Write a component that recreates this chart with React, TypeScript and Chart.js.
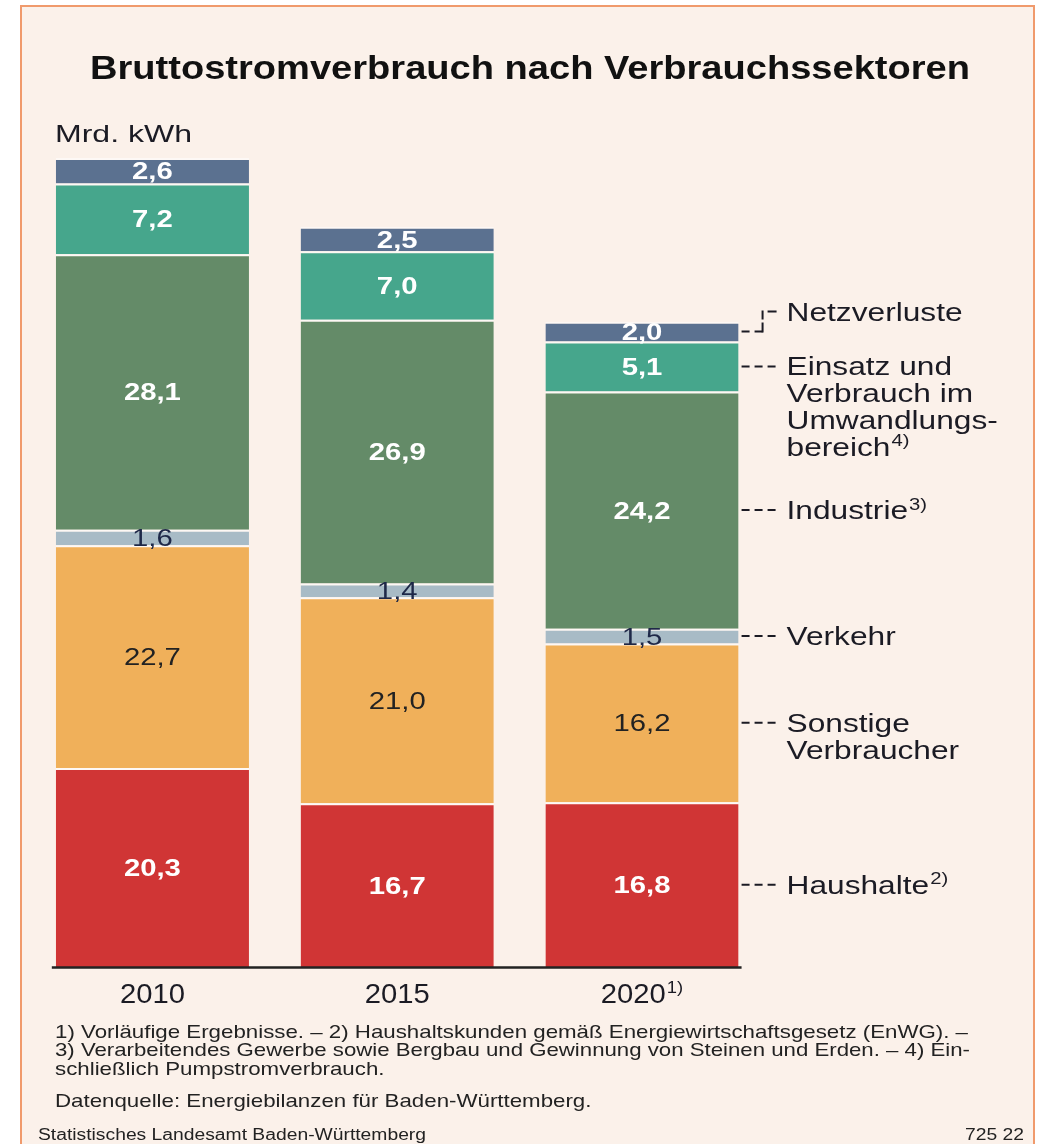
import React, { useEffect, useRef } from "react";
import { Chart, registerables } from "chart.js";

Chart.register(...registerables);

// ---------- data ----------
const years = ["2010", "2015", "2020"];
const yearSup = ["", "", "1)"];
const haushalte = [20.3, 16.7, 16.8];
const sonstige = [22.7, 21.0, 16.2];
const verkehr = [1.6, 1.4, 1.5];
const industrie = [28.1, 26.9, 24.2];
const umwandlung = [7.2, 7.0, 5.1];
const netzverluste = [2.6, 2.5, 2.0];
const seriesLabels = [
  "Haushalte",
  "Sonstige Verbraucher",
  "Verkehr",
  "Industrie",
  "Einsatz und Verbrauch im Umwandlungsbereich",
  "Netzverluste",
];
const legendLines: [string, string][][] = [
  [["Haushalte", "2)"]],
  [["Sonstige", ""], ["Verbraucher", ""]],
  [["Verkehr", ""]],
  [["Industrie", "3)"]],
  [["Einsatz und", ""], ["Verbrauch im", ""], ["Umwandlungs-", ""], ["bereich", "4)"]],
  [["Netzverluste", ""]],
];
const titleText = "Bruttostromverbrauch nach Verbrauchssektoren";
const unitText = "Mrd. kWh";
const footnoteLines = [
  "1) Vorläufige Ergebnisse. – 2) Haushaltskunden gemäß Energiewirtschaftsgesetz (EnWG). –",
  "3) Verarbeitendes Gewerbe sowie Bergbau und Gewinnung von Steinen und Erden. – 4) Ein-",
  "schließlich Pumpstromverbrauch.",
];
const sourceText = "Datenquelle: Energiebilanzen für Baden-Württemberg.";
const publisherText = "Statistisches Landesamt Baden-Württemberg";
const codeText = "725 22";

// ---------- styles ----------
const seriesData = [haushalte, sonstige, verkehr, industrie, umwandlung, netzverluste];
const colors = ["#d03535", "#f0b05a", "#a8bbc6", "#648b68", "#46a68c", "#5b7190"];
const valueColors = ["#ffffff", "#222222", "#1e2848", "#ffffff", "#ffffff", "#ffffff"];
const valueBold = [true, false, false, true, true, true];
const legendOffsets = [0, 0, 0, 0, 0, -20];
const gapColor = "#fdf8f5";
const bgColor = "#fbf1ea";
const frameColor = "#f09a6c";
const textColor = "#1b1b24";
const FAM = '"Liberation Sans", Arial, Helvetica, sans-serif';
const NARROW = '"Liberation Sans Narrow", "Liberation Sans", Arial, sans-serif';
const f = (bold: boolean, size: number, fam = FAM) => `${bold ? "bold " : ""}${size}px ${fam}`;

const mctx = document.createElement("canvas").getContext("2d") as CanvasRenderingContext2D;
function tw(text: string, font: string) {
  mctx.font = font;
  return mctx.measureText(text).width;
}
const fmt = (v: number) => v.toFixed(1).replace(".", ",");

function drawStretched(ctx: CanvasRenderingContext2D, text: string, left: number, y: number, sx: number) {
  ctx.save();
  ctx.translate(left, y);
  ctx.scale(sx, 1);
  ctx.textAlign = "left";
  ctx.textBaseline = "alphabetic";
  ctx.fillText(text, 0, 0);
  ctx.restore();
}

function drawSup(
  ctx: CanvasRenderingContext2D,
  main: string,
  sup: string,
  x: number,
  cy: number,
  size: number,
  supSize: number,
  sx: number,
  align: "left" | "center",
  bold: boolean
) {
  ctx.font = f(bold, size);
  const w1 = ctx.measureText(main).width * sx;
  ctx.font = f(bold, supSize);
  const w2 = sup ? ctx.measureText(sup).width * sx + 1 : 0;
  const total = w1 + w2;
  const left = align === "center" ? x - total / 2 : x;
  const baseline = cy + 0.358 * size;
  ctx.font = f(bold, size);
  drawStretched(ctx, main, left, baseline, sx);
  if (sup) {
    ctx.font = f(bold, supSize);
    const sb = baseline - 0.716 * size - 3 + 0.716 * supSize;
    drawStretched(ctx, sup, left + w1 + 1, sb, sx);
  }
}

const labelPlugin = {
  id: "customLabels",
  afterDatasetsDraw(chart: any) {
    const ctx: CanvasRenderingContext2D = chart.ctx;
    const valSize = 24;
    const valSx = 57 / tw("28,1", f(true, valSize));
    const legSize = 25;
    const legSx = 176 / tw("Netzverluste", f(false, legSize));
    const yearSize = 27;
    const yearSx = 65 / tw("2020", f(false, yearSize));

    // values inside bars
    chart.data.datasets.forEach((ds: any, di: number) => {
      const meta = chart.getDatasetMeta(di);
      meta.data.forEach((el: any, i: number) => {
        const cy = (el.y + el.base) / 2;
        ctx.fillStyle = valueColors[di];
        drawSup(ctx, fmt(ds.data[i]), "", el.x, cy, valSize, 16, valSx, "center", valueBold[di]);
      });
    });

    // baseline
    const m0 = chart.getDatasetMeta(0);
    const first = m0.data[0];
    const last = m0.data[m0.data.length - 1];
    const yb = chart.scales.y.getPixelForValue(0);
    ctx.save();
    ctx.strokeStyle = "#222222";
    ctx.lineWidth = 2.5;
    ctx.beginPath();
    ctx.moveTo(first.x - first.width / 2 - 4, yb + 0.5);
    ctx.lineTo(last.x + last.width / 2 + 3, yb + 0.5);
    ctx.stroke();
    ctx.restore();

    // year labels
    ctx.fillStyle = textColor;
    years.forEach((yr, i) => {
      const x = chart.scales.x.getPixelForValue(i);
      drawSup(ctx, yr, yearSup[i], x, yb + 26, yearSize, 17, yearSx, "center", false);
    });

    // right legend with dashed leaders
    chart.data.datasets.forEach((_ds: any, di: number) => {
      const meta = chart.getDatasetMeta(di);
      const el = meta.data[meta.data.length - 1];
      const cy = (el.y + el.base) / 2;
      const x0 = el.x + el.width / 2;
      const off = legendOffsets[di];
      ctx.save();
      ctx.strokeStyle = "#1b1b24";
      ctx.lineWidth = 2;
      ctx.setLineDash([8, 5]);
      ctx.beginPath();
      if (off === 0) {
        ctx.moveTo(x0 + 3, cy);
        ctx.lineTo(x0 + 39, cy);
        ctx.stroke();
      } else {
        ctx.moveTo(x0 + 3, cy);
        ctx.lineTo(x0 + 11, cy);
        ctx.moveTo(x0 + 16, cy);
        ctx.lineTo(x0 + 24, cy);
        ctx.stroke();
        ctx.setLineDash([]);
        ctx.beginPath();
        ctx.moveTo(x0 + 24, cy + 1);
        ctx.lineTo(x0 + 24, cy - 9);
        ctx.moveTo(x0 + 24, cy + off + 8);
        ctx.lineTo(x0 + 24, cy + off - 1);
        ctx.moveTo(x0 + 29, cy + off);
        ctx.lineTo(x0 + 38, cy + off);
        ctx.stroke();
      }
      ctx.restore();
      ctx.fillStyle = textColor;
      legendLines[di].forEach(([txt, sup], li) => {
        drawSup(ctx, txt, sup, x0 + 48, cy + off + li * 26.8, legSize, 16, legSx, "left", false);
      });
    });
  },
};

function Line(props: {
  text: string;
  font: string;
  x: number;
  cy: number;
  scale: number;
  color?: string;
  anchor?: "left" | "right" | "center";
}) {
  const { text, font, x, cy, scale, color = textColor, anchor = "left" } = props;
  const style: React.CSSProperties = {
    position: "absolute",
    font,
    top: cy - 20,
    height: 40,
    lineHeight: "40px",
    color,
    whiteSpace: "nowrap",
    transform: `scaleX(${scale})`,
  };
  if (anchor === "left") {
    style.left = x;
    style.transformOrigin = "left center";
  } else if (anchor === "right") {
    style.right = 1038 - x;
    style.transformOrigin = "right center";
  } else {
    const w = tw(text, font);
    style.left = x - w / 2;
    style.transformOrigin = "center center";
  }
  return <div style={style}>{text}</div>;
}

export default function App() {
  const ref = useRef<HTMLCanvasElement | null>(null);

  useEffect(() => {
    if (!ref.current) return;
    const chart = new Chart(ref.current, {
      type: "bar",
      data: {
        labels: years,
        datasets: seriesData.map((d, i) => ({
          label: seriesLabels[i],
          data: d,
          backgroundColor: colors[i],
          borderColor: gapColor,
          borderWidth: { top: 2, right: 0, bottom: 0, left: 0 },
          borderSkipped: false,
          barPercentage: 0.789,
          categoryPercentage: 1,
        })),
      },
      options: {
        animation: false,
        responsive: false,
        devicePixelRatio: 1,
        layout: { padding: { left: 30, right: 273.6, top: 84.5, bottom: 177 } },
        plugins: {
          legend: { display: false },
          tooltip: { enabled: false },
          title: { display: false },
        },
        scales: {
          x: { stacked: true, display: false },
          y: { stacked: true, display: false, min: 0, max: 90 },
        },
      },
      plugins: [labelPlugin],
    } as any);
    return () => chart.destroy();
  }, []);

  const titleFont = f(true, 34);
  const titleScale = 880 / tw(titleText, titleFont);
  const unitFont = f(false, 24);
  const unitScale = 137 / tw(unitText, unitFont);
  const noteFont = f(false, 19, NARROW);
  const s1 = 913 / tw(footnoteLines[0], noteFont);
  const s2 = 915 / tw(footnoteLines[1], noteFont);
  const pubFont = f(false, 16, NARROW);
  const pubScale = 388 / tw(publisherText, pubFont);

  return (
    <div
      style={{
        position: "absolute",
        left: 0,
        top: 0,
        width: 1038,
        height: 1144,
        overflow: "hidden",
        background: "#ffffff",
      }}
    >
      <div
        style={{
          position: "absolute",
          left: 20,
          top: 5,
          width: 1011,
          height: 1160,
          background: bgColor,
          border: `2.5px solid ${frameColor}`,
        }}
      />
      <canvas ref={ref} width={1038} height={1144} style={{ position: "absolute", left: 0, top: 0 }} />
      <Line text={titleText} font={titleFont} x={530} cy={67} scale={titleScale} color="#111111" anchor="center" />
      <Line text={unitText} font={unitFont} x={55} cy={134} scale={unitScale} />
      <Line text={footnoteLines[0]} font={noteFont} x={55} cy={1032} scale={s1} color="#222222" />
      <Line text={footnoteLines[1]} font={noteFont} x={55} cy={1050} scale={s2} color="#222222" />
      <Line text={footnoteLines[2]} font={noteFont} x={55} cy={1069} scale={s1} color="#222222" />
      <Line text={sourceText} font={noteFont} x={55} cy={1101} scale={s1} color="#222222" />
      <Line text={publisherText} font={pubFont} x={38} cy={1135} scale={pubScale} color="#222222" />
      <Line text={codeText} font={pubFont} x={1024} cy={1135} scale={pubScale} color="#222222" anchor="right" />
    </div>
  );
}
